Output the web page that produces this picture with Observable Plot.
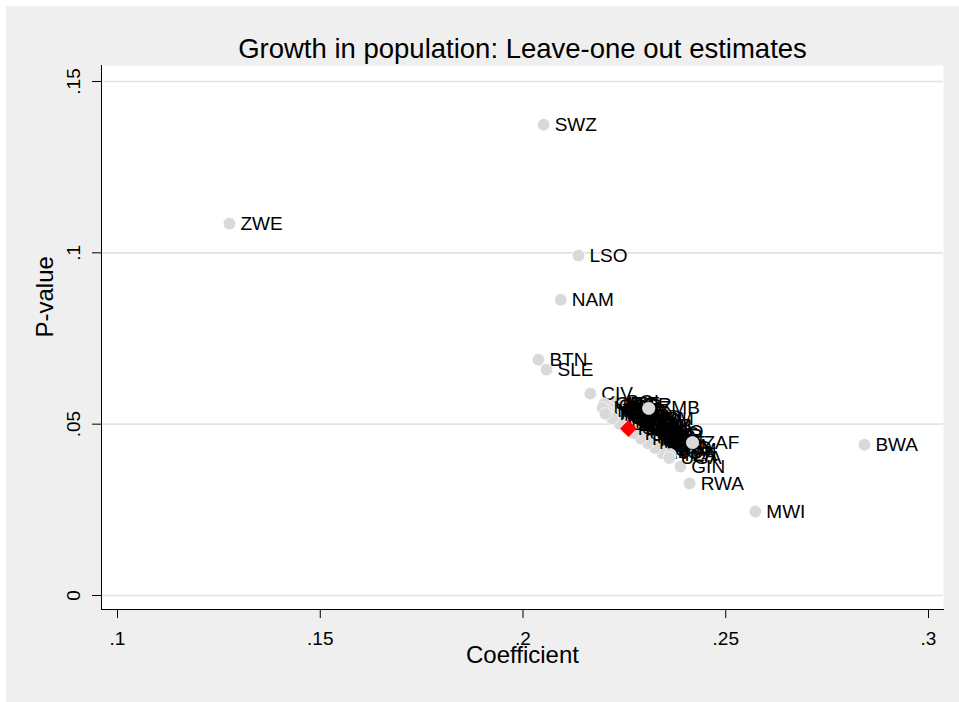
<!DOCTYPE html>
<html>
<head>
<meta charset="utf-8">
<script src="https://cdn.jsdelivr.net/npm/d3@7"></script>
<script src="https://cdn.jsdelivr.net/npm/@observablehq/plot@0.6"></script>
<style>
  html, body { margin: 0; padding: 0; background: #ffffff; }
  #wrap { padding: 6px 0 0 6px; width: 953px; height: 696px; }
  #wrap svg { display: block; }
</style>
</head>
<body>
<div id="wrap"></div>
<script>
// ---- data ----
const titleText = "Growth in population: Leave-one out estimates";
const xTitle = "Coefficient";
const yTitle = "P-value";

const xTicks = [0.1, 0.15, 0.2, 0.25, 0.3];
const xTickLabels = [".1", ".15", ".2", ".25", ".3"];
const yTicks = [0, 0.05, 0.1, 0.15];
const yTickLabels = ["0", ".05", ".1", ".15"];

// leave-one-out estimates: country code, coefficient, p-value
const codes = [
  "SWZ","ZWE","LSO","NAM","BTN","SLE","CIV","BWA","MWI","RWA","GIN","ZAF","ZMB",
  "NER","MRT","MOZ","MLI","MEX","MDG","MAR","LBR","LAO","KHM","KEN","JAM","IRN","IND","IDN","HTI","HND","GTM","BDI","TZA",
  "GRC","GMB","GHA","GAB","ETH","ESP","EGY","ECU","DZA","DOM","CRI","COL","COG","CMR","CHN","CHL","CAF","BRA",
  "TGO","TCD","SEN","PHL","PER","PAK","NPL","NIC","NGA","UGA",
  "BOL","BGR","BFA","AZE","ARG","BGD","BEN","ARM","ALB","AGO"
];
const coef = [
  0.2051,0.1276,0.2137,0.2093,0.2038,0.2058,0.2166,0.2842,0.2573,0.2411,0.2388,0.2418,0.2310,
  0.2196,0.2205,0.2214,0.2222,0.2231,0.2240,0.2249,0.2258,0.2266,0.2275,0.2284,0.2293,0.2302,0.2310,0.2319,0.2328,0.2337,0.2346,0.2354,0.2363,
  0.2200,0.2209,0.2218,0.2226,0.2235,0.2240,0.2253,0.2262,0.2270,0.2279,0.2288,0.2297,0.2303,0.2309,0.2316,0.2322,0.2329,0.2336,
  0.2203,0.2220,0.2238,0.2256,0.2273,0.2291,0.2308,0.2326,0.2344,0.2361,
  0.2228,0.2238,0.2212,0.2220,0.2232,0.2262,0.2280,0.2290,0.2302,0.2314
];
const pval = [
  0.1374,0.1085,0.0992,0.0863,0.0688,0.0659,0.0589,0.0440,0.0245,0.0327,0.0376,0.0446,0.0546,
  0.0547,0.0540,0.0533,0.0526,0.0519,0.0511,0.0504,0.0497,0.0490,0.0483,0.0475,0.0468,0.0461,0.0454,0.0447,0.0440,0.0432,0.0425,0.0418,0.0411,
  0.0559,0.0552,0.0544,0.0538,0.0531,0.0523,0.0516,0.0509,0.0502,0.0495,0.0487,0.0480,0.0473,0.0466,0.0459,0.0452,0.0444,0.0437,
  0.0530,0.0516,0.0501,0.0487,0.0473,0.0458,0.0444,0.0430,0.0415,0.0401,
  0.0566,0.0556,0.0549,0.0560,0.0536,0.0520,0.0512,0.0516,0.0496,0.0476
];
// full-sample estimate (red diamond)
const fullCoef = [0.2260];
const fullPval = [0.0487];

// ---- build ----
const rows = codes.map((code, i) => ({code, coef: coef[i], pval: pval[i]}))
  .sort((a, b) => d3.ascending(a.code, b.code));
const full = fullCoef.map((c, i) => ({coef: c, pval: fullPval[i]}));

const pointMarks = rows.flatMap(r => [
  Plot.dot([r], {x: "coef", y: "pval", r: 6.2, fill: "#d9d9d9", stroke: "#ffffff", strokeWidth: 0.6}),
  Plot.text([r], {x: "coef", y: "pval", text: "code", dx: 11, textAnchor: "start", fontSize: 19, fill: "#000"})
]);

const chart = Plot.plot({
  width: 953,
  height: 696,
  marginLeft: 95,
  marginRight: 16,
  marginTop: 59,
  marginBottom: 93,
  style: {background: "#efefef", fontFamily: "'Liberation Sans', Arial, sans-serif", fontSize: "19px", overflow: "visible"},
  x: {domain: [0.1, 0.3], range: [111, 922]},
  y: {domain: [0, 0.15], range: [589, 75]},
  marks: [
    Plot.frame({fill: "#ffffff", stroke: null}),
    Plot.ruleY(yTicks, {stroke: "#e3e3e3", strokeWidth: 1.6}),
    ...pointMarks,
    Plot.dot(full, {x: "coef", y: "pval", symbol: "diamond2", r: 7.5, fill: "#ff0000", stroke: null}),
    Plot.frame({anchor: "left", stroke: "#000", strokeWidth: 1}),
    Plot.frame({anchor: "bottom", stroke: "#000", strokeWidth: 1}),
    Plot.axisX({ticks: xTicks, tickSize: 9, tickPadding: 13, fontSize: 19, label: null,
      tickFormat: d => xTickLabels[xTicks.indexOf(d)]}),
    Plot.axisY({ticks: yTicks, tickSize: 9, tickFormat: () => "", label: null}),
    Plot.text(yTicks, {y: d => d, text: (d, i) => yTickLabels[i], frameAnchor: "left", dx: -28,
      rotate: -90, textAnchor: "middle", fontSize: 19}),
    Plot.text([xTitle], {frameAnchor: "bottom", dy: 53, fontSize: 24, text: d => d}),
    Plot.text([yTitle], {frameAnchor: "left", dx: -56, rotate: -90, fontSize: 24, text: d => d}),
    Plot.text([titleText], {frameAnchor: "top", dy: -27, fontSize: 27.5, text: d => d})
  ]
});
document.getElementById("wrap").appendChild(chart);
</script>
</body>
</html>
